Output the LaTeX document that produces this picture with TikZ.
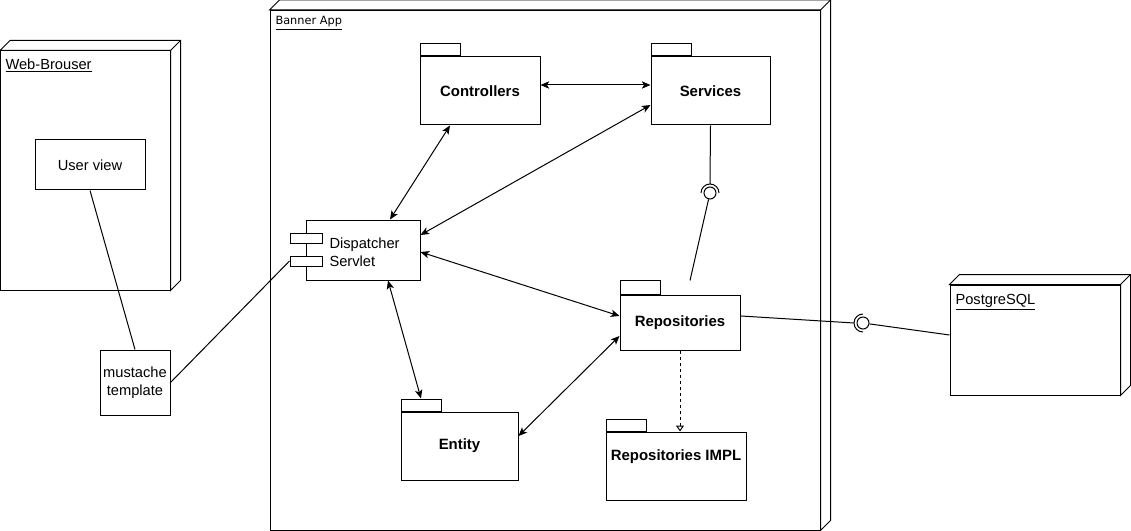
\documentclass[tikz,border=0pt]{standalone}
\usepackage{fontspec}
\setmainfont{Liberation Sans}
\newfontfamily\appfont{DejaVu Sans}
\usetikzlibrary{arrows.meta,calc}
\begin{document}
\begin{tikzpicture}[x=0.75pt,y=-0.75pt,line width=0.75pt,
  font=\fontsize{11}{13.5}\selectfont,
  box/.style={draw,fill=white,inner sep=0pt},
  pkgbody/.style={draw,fill=white,inner sep=0pt,font=\fontsize{11.2}{13.5}\selectfont\bfseries},
  pkgtab/.style={draw,fill=white,inner sep=0pt,minimum width=40*0.75pt,minimum height=12*0.75pt,anchor=south west},
  nodelabel/.style={anchor=north west,inner sep=0pt},
  tip/.tip={Stealth[length=6.5pt,width=5.5pt,inset=1.6pt]},
  dbl/.style={tip-tip},
  lolly/.style={draw,circle,minimum size=12*0.75pt,inner sep=0pt},
  realize/.style={dash pattern=on 2.25pt off 2.25pt,-{Triangle[open,length=4.5pt,width=6pt]}}
]
\useasboundingbox (0,0) rectangle (1131,531);

% ---- Banner App node (3D)
\node[box,minimum width=550*0.75pt,minimum height=519.5*0.75pt] (app) at (545,270.25) {};
\draw[fill=white] (app.north west) -- ++(10,-10) -- ([shift={(10,-10)}]app.north east) -- ([shift={(10,-10)}]app.south east) -- (app.south east) -- (app.north east) -- cycle;
\draw (app.north east) -- ++(10,-10);
\node[nodelabel,font=\appfont\fontsize{8.5}{10}\selectfont] (appLabel) at (275,16) {\underline{Banner App}};

% ---- Web-Brouser node (3D)
\node[box,minimum width=169.5*0.75pt,minimum height=239*0.75pt] (web) at (85.25,170.5) {};
\draw[fill=white] (web.north west) -- ++(10,-10) -- ([shift={(10,-10)}]web.north east) -- ([shift={(10,-10)}]web.south east) -- (web.south east) -- (web.north east) -- cycle;
\draw (web.north east) -- ++(10,-10);
\node[nodelabel] (webLabel) at (5,58) {\underline{Web-Brouser}};

% ---- PostgreSQL node (3D)
\node[box,minimum width=170*0.75pt,minimum height=110*0.75pt] (pg) at (1035,340) {};
\draw[fill=white] (pg.north west) -- ++(10,-10) -- ([shift={(10,-10)}]pg.north east) -- ([shift={(10,-10)}]pg.south east) -- (pg.south east) -- (pg.north east) -- cycle;
\draw (pg.north east) -- ++(10,-10);
\node[nodelabel] (pgLabel) at (955,294) {\underline{PostgreSQL}};

% ---- User view and template
\node[box,minimum width=110*0.75pt,minimum height=50*0.75pt] (uv) at (90,165) {User view};
\node[box,minimum width=70*0.75pt,minimum height=65*0.75pt,align=center] (must) at (135,382.5) {mustache\\template};

% ---- Packages
\node[pkgbody,minimum width=120*0.75pt,minimum height=68*0.75pt] (ctrl) at (480,91) {Controllers};
\node[pkgtab] (ctrlTab) at (ctrl.north west) {};
\node[pkgbody,minimum width=119*0.75pt,minimum height=68*0.75pt] (svc) at (710.5,91) {Services};
\node[pkgtab] (svcTab) at (svc.north west) {};
\node[pkgbody,minimum width=120*0.75pt,minimum height=55*0.75pt] (repo) at (680,322.5) {Repositories};
\node[pkgtab,minimum height=14*0.75pt] (repoTab) at (repo.north west) {};
\node[pkgbody,minimum width=117*0.75pt,minimum height=68*0.75pt] (ent) at (459.5,446) {Entity};
\node[pkgtab] (entTab) at (ent.north west) {};
\node[pkgbody,minimum width=140*0.75pt,minimum height=68*0.75pt] (impl) at (676,466) {};
\node[pkgtab] (implTab) at (impl.north west) {};
\node[font=\fontsize{11.2}{13.5}\selectfont\bfseries] (implText) at (676,457) {Repositories IMPL};

% ---- Dispatcher Servlet component
\node[box,minimum width=114*0.75pt,minimum height=60*0.75pt] (disp) at (363,250) {};
\node[box,minimum width=32*0.75pt,minimum height=10*0.75pt] (port1) at (306,238) {};
\node[box,minimum width=32*0.75pt,minimum height=10*0.75pt] (port2) at (306,261) {};
\node[anchor=west,align=left,inner sep=0pt] (dispText) at (329,252) {Dispatcher\\Servlet};

% ---- Interfaces (lollipops)
\node[lolly] (lolA) at (710,193) {};
\coordinate (sockA) at (710,184);
\draw (701,193) arc[start angle=180,end angle=0,radius=6.75pt];
\node[lolly] (lolB) at (863,323) {};
\coordinate (sockB) at (854,323);
\draw (863,314) arc[start angle=90,end angle=270,radius=6.75pt];

% ---- Connectors
\draw[dbl] ([yshift=4.5pt]ctrl.east) -- ([yshift=4.5pt]svc.west);
\draw[dbl] ([xshift=-22.5pt]ctrl.south) -- ([xshift=20.25pt]disp.north);
\draw[dbl] ([yshift=-10.5pt]svc.west) -- ([yshift=11.25pt]disp.east);
\draw[dbl] ([yshift=-1.5pt]disp.east) -- ([yshift=4.9pt]repo.west);
\draw[dbl] ([xshift=18.75pt]disp.south) -- (entTab.north);
\draw[dbl] ([yshift=7.5pt]ent.east) -- ([yshift=-10.1pt]repo.west);
\draw (uv.south) -- (must.north);
\draw (must.east) -- (port2.west);
\draw[realize] (repo.south) -- (repo.south |- impl.north);
\draw (svc.south) -- (sockA);
\coordinate (repoTop) at ($(repo.north)+(10,-14)$);
\draw (lolA) -- (repoTop);
\draw ([yshift=4.9pt]repo.east) -- (sockB);
\draw (lolB) -- ([yshift=3.75pt]pg.west);
\end{tikzpicture}
\end{document}
